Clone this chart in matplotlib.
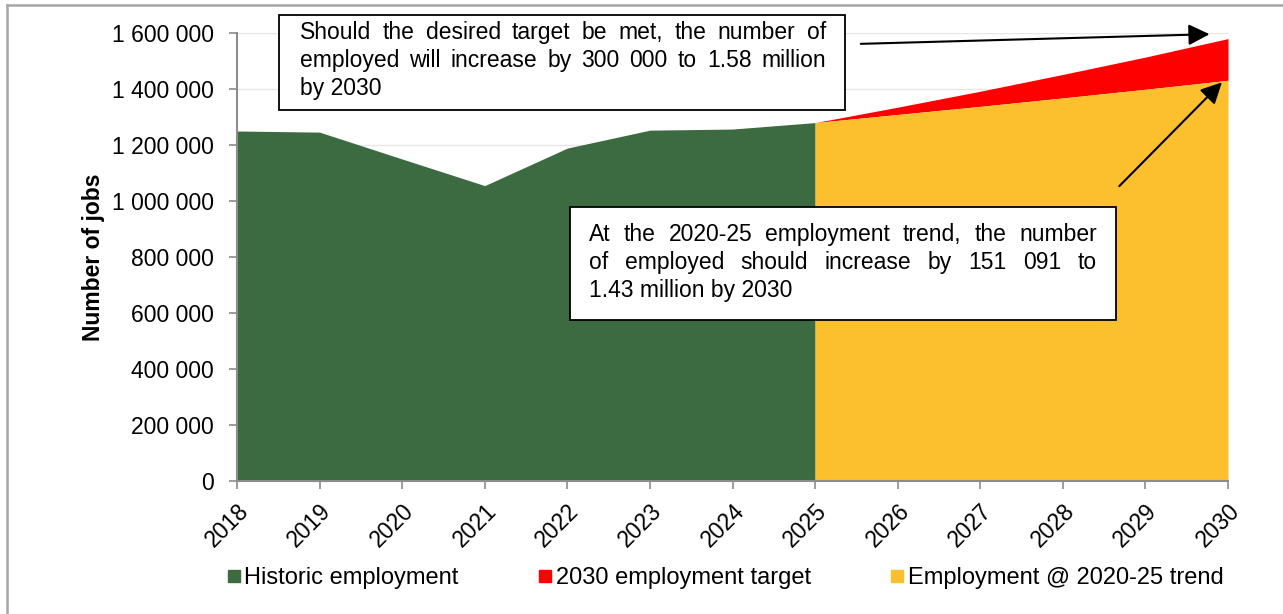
import numpy as np
import matplotlib.pyplot as plt
from matplotlib.lines import Line2D
from matplotlib.patches import Rectangle
from matplotlib.ticker import FuncFormatter

plt.rcParams['font.family'] = ['Liberation Sans', 'DejaVu Sans']

# employment figures
hist_years = [2018, 2019, 2020, 2021, 2022, 2023, 2024, 2025]
historic = [1250000, 1246000, 1150000, 1055000, 1189000, 1253000, 1257000, 1280000]
proj_years = [2025, 2026, 2027, 2028, 2029, 2030]
trend = [1280000, 1309000, 1338000, 1368000, 1399000, 1431000]
target = [1280000, 1335000, 1392000, 1452000, 1514000, 1580000]
all_years = list(range(2018, 2031))

GREEN = '#3d6b41'
RED = '#ff0000'
YELLOW = '#fcc02e'
GREY = '#8c8c8c'

W, H = 1283, 614
fig = plt.figure(figsize=(W / 100, H / 100), dpi=100)

def fx(px):
    return px / W

def fy(py):
    return 1 - py / H

ax = fig.add_axes([fx(237), fy(481), fx(1228) - fx(237), fy(33) - fy(481)])

ax.fill_between(hist_years, 0, historic, color=GREEN, lw=0, zorder=2)
ax.fill_between(proj_years, trend, target, color=RED, lw=0, zorder=2)
ax.fill_between(proj_years, 0, trend, color=YELLOW, lw=0, zorder=2)

ax.set_xlim(2018, 2030)
ax.set_ylim(0, 1600000)
ax.set_xticks(all_years)
ax.set_xticklabels([str(y) for y in all_years], rotation=45, ha='right', va='top',
                   rotation_mode='anchor', fontsize=16.5)
ax.set_yticks(np.arange(0, 1600001, 200000))
ax.yaxis.set_major_formatter(FuncFormatter(lambda v, p: f'{int(v):,}'.replace(',', ' ')))
ax.tick_params(axis='y', labelsize=16.5, length=6, color=GREY, width=1.2, pad=10.5)
ax.tick_params(axis='x', length=6, color=GREY, width=1.2, pad=7)
ax.grid(axis='y', color='#e6e6e6', lw=1, zorder=0)
ax.set_axisbelow(True)
for s in ['top', 'right']:
    ax.spines[s].set_visible(False)
for s in ['left', 'bottom']:
    ax.spines[s].set_color(GREY)
    ax.spines[s].set_linewidth(1.5)
    ax.spines[s].set_zorder(3)
ax.set_ylabel('Number of jobs', fontsize=16.5, fontweight='bold', labelpad=5)

# outer frame
fig.add_artist(Line2D([fx(7), fx(7)], [fy(5), 0], transform=fig.transFigure, color='#a6a6a6', lw=1.8))
fig.add_artist(Line2D([fx(7), 1], [fy(5), fy(5)], transform=fig.transFigure, color='#a6a6a6', lw=1.8))

def text_box(lines, bx0, bx1, by0, by1, tx0, tx1, ty0, step, fs=16.5):
    fig.add_artist(Rectangle((fx(bx0), fy(by1)), fx(bx1) - fx(bx0), fy(by0) - fy(by1),
                             transform=fig.transFigure, facecolor='white',
                             edgecolor='black', lw=1.3, zorder=5))
    r = fig.canvas.get_renderer()
    for i, line in enumerate(lines):
        y = fy(ty0 + i * step)
        words = line.split()
        if i == len(lines) - 1:
            fig.text(fx(tx0), y, line, fontsize=fs, va='center_baseline', zorder=6)
            continue
        texts = [fig.text(0, y, w, fontsize=fs, va='center_baseline', zorder=6) for w in words]
        widths = [t.get_window_extent(r).width for t in texts]
        gap = ((tx1 - tx0) - sum(widths)) / (len(words) - 1)
        x = tx0
        for t, w in zip(texts, widths):
            t.set_x(fx(x))
            x += w + gap

text_box(['Should the desired target be met, the number of',
          'employed will increase by 300 000 to 1.58 million',
          'by 2030'],
         279, 845, 15, 110, 300, 826, 30, 28)

text_box(['At the 2020-25 employment trend, the number',
          'of employed should increase by 151 091 to',
          '1.43 million by 2030'],
         570, 1116, 207, 320, 589, 1097, 232, 28)

# arrows pointing at the 2030 values
ax.annotate('', xy=(2029.81, 1596000), xytext=(2025.52, 1561000),
            arrowprops=dict(arrowstyle='-|>', color='black', lw=1.5, mutation_scale=32),
            annotation_clip=False, zorder=7)
ax.annotate('', xy=(2029.95, 1431000), xytext=(2028.66, 1046000),
            arrowprops=dict(arrowstyle='-|>', color='black', lw=1.5, mutation_scale=32),
            annotation_clip=False, zorder=7)

handles = [Line2D([], [], marker='s', ls='none', color=c, markersize=9)
           for c in [GREEN, RED, YELLOW]]
fig.legend(handles, ['Historic employment', '2030 employment target', 'Employment @ 2020-25 trend'],
           loc='center', bbox_to_anchor=(fx(725), fy(578)), ncol=3, frameon=False,
           fontsize=17, handlelength=0.6, handletextpad=0.15, columnspacing=3.35)

fig.savefig('out.png', dpi=100)
